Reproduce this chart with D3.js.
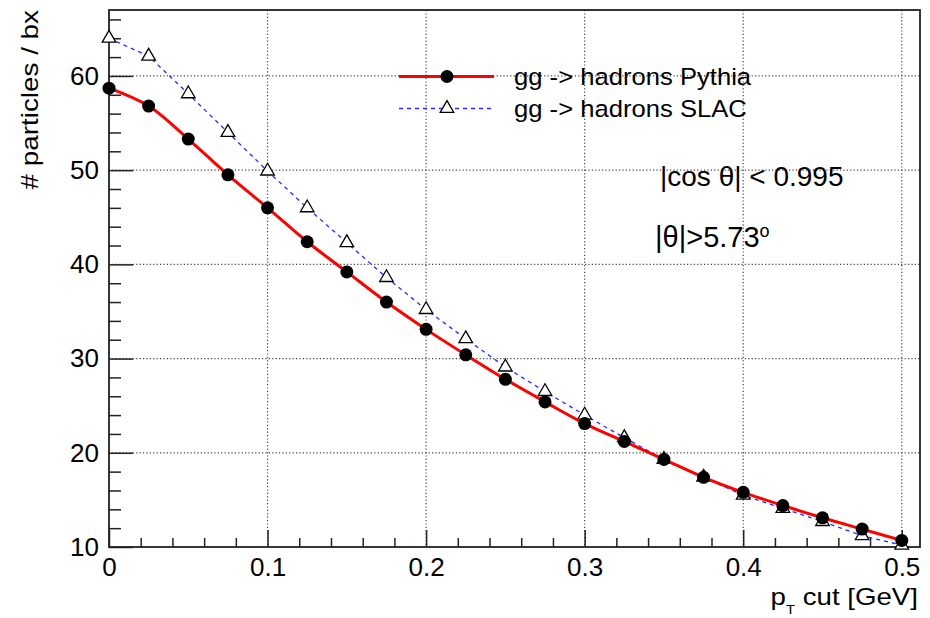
<!DOCTYPE html>
<html>
<head>
<meta charset="utf-8">
<script src="https://cdn.jsdelivr.net/npm/d3@7"></script>
<style>
	body { margin: 0; background: #fff; }
	svg { display: block; font-family: "Liberation Sans", Arial, sans-serif; }
</style>
</head>
<body>
<div id="chart"></div>
<script>
// --- DATA --- \\
var ptCut = [0, 0.025, 0.05, 0.075, 0.1, 0.125, 0.15, 0.175, 0.2, 0.225, 0.25,
	0.275, 0.3, 0.325, 0.35, 0.375, 0.4, 0.425, 0.45, 0.475, 0.5];
var pythia = [58.7, 56.8, 53.3, 49.5, 46.0, 42.4, 39.2, 36.0, 33.1, 30.4, 27.8,
	25.4, 23.1, 21.2, 19.3, 17.4, 15.8, 14.4, 13.1, 11.9, 10.7];
var slac = [64.0, 62.1, 58.1, 54.0, 49.9, 46.0, 42.3, 38.6, 35.2, 32.1, 29.1,
	26.5, 24.0, 21.6, 19.3, 17.4, 15.5, 14.1, 12.7, 11.2, 10.2];
var xMajor = [0, 0.1, 0.2, 0.3, 0.4, 0.5];
var yMajor = [10, 20, 30, 40, 50, 60];
var legendNames = ["gg -> hadrons Pythia", "gg -> hadrons SLAC"];

var width = 930, height = 618
	, frame = {left: 109, right: 920, top: 10, bottom: 547}
	, font = '"Liberation Sans", Arial, sans-serif';

var svg = d3.select("#chart").append("svg")
	.attr("width", width)
	.attr("height", height);

svg.append("rect").attr("width", width).attr("height", height).attr("fill", "#fff");

var x = d3.scaleLinear().domain([0, 0.5115]).range([frame.left, frame.right]);
var y = d3.scaleLinear().domain([10, 67]).range([frame.bottom, frame.top]);

// minor ticks: 5 subdivisions per major
var xMinor = d3.range(0, 0.5115, 0.02).filter(function (d) {
	return Math.abs(d * 10 - Math.round(d * 10)) > 1e-6;
});
var yMinor = d3.range(10, 67, 2).filter(function (d) { return d % 10 !== 0; });

// --- GRID --- \\
svg.append("g").selectAll("line").data(xMajor.slice(1)).enter().append("line")
	.attr("x1", function (d) { return x(d); })
	.attr("x2", function (d) { return x(d); })
	.attr("y1", frame.top).attr("y2", frame.bottom)
	.attr("stroke", "#444").attr("stroke-width", 1.2)
	.attr("stroke-dasharray", "1.2,2.2");

svg.append("g").selectAll("line").data(yMajor.slice(1)).enter().append("line")
	.attr("x1", frame.left).attr("x2", frame.right)
	.attr("y1", function (d) { return y(d); })
	.attr("y2", function (d) { return y(d); })
	.attr("stroke", "#444").attr("stroke-width", 1.2)
	.attr("stroke-dasharray", "1.2,2.2");

// --- AXES --- \\ ticks point inward like ROOT
function styleAxis(g, fs) {
	g.select(".domain").remove();
	g.selectAll("line").attr("stroke", "#222").attr("stroke-width", 1.5);
	g.selectAll("text").attr("fill", "#000").style("font-size", fs + "px").style("font-family", font);
}

svg.append("g").attr("transform", "translate(0," + frame.bottom + ")")
	.call(d3.axisBottom(x).tickValues(xMinor).tickSize(-9).tickFormat(""))
	.call(styleAxis, 26);
svg.append("g").attr("transform", "translate(0," + frame.bottom + ")")
	.call(d3.axisBottom(x).tickValues(xMajor).tickSize(-17).tickPadding(11)
		.tickFormat(function (d) { return d === 0 ? "0" : d3.format(".1f")(d); }))
	.call(styleAxis, 26);

svg.append("g").attr("transform", "translate(" + frame.left + ",0)")
	.call(d3.axisLeft(y).tickValues(yMinor).tickSize(-12).tickFormat(""))
	.call(styleAxis, 26);
svg.append("g").attr("transform", "translate(" + frame.left + ",0)")
	.call(d3.axisLeft(y).tickValues(yMajor).tickSize(-24).tickPadding(10))
	.call(styleAxis, 26);

// frame
svg.append("rect")
	.attr("x", frame.left).attr("y", frame.top)
	.attr("width", frame.right - frame.left)
	.attr("height", frame.bottom - frame.top)
	.attr("fill", "none").attr("stroke", "#222").attr("stroke-width", 1.8);

// --- SERIES --- \\
var slacPts = ptCut.map(function (d, i) { return [d, slac[i]]; });
var pythiaPts = ptCut.map(function (d, i) { return [d, pythia[i]]; });

var lineLin = d3.line()
	.x(function (d) { return x(d[0]); })
	.y(function (d) { return y(d[1]); });
var lineSmooth = d3.line()
	.x(function (d) { return x(d[0]); })
	.y(function (d) { return y(d[1]); })
	.curve(d3.curveCatmullRom.alpha(0.5));

var triangle = d3.symbol().type(d3.symbolTriangle).size(80);

svg.append("path").datum(slacPts)
	.attr("d", lineLin)
	.attr("fill", "none").attr("stroke", "#2a2aff").attr("stroke-width", 1.3)
	.attr("stroke-dasharray", "4,4");

svg.append("g").selectAll("path").data(slacPts).enter().append("path")
	.attr("d", triangle)
	.attr("transform", function (d) { return "translate(" + x(d[0]) + "," + y(d[1]) + ")"; })
	.attr("fill", "#fff").attr("stroke", "#000").attr("stroke-width", 1.3);

svg.append("path").datum(pythiaPts)
	.attr("d", lineSmooth)
	.attr("fill", "none").attr("stroke", "#f00").attr("stroke-width", 3);

svg.append("g").selectAll("circle").data(pythiaPts).enter().append("circle")
	.attr("cx", function (d) { return x(d[0]); })
	.attr("cy", function (d) { return y(d[1]); })
	.attr("r", 6.5)
	.attr("fill", "#000");

// --- LEGEND --- \\
var leg = svg.append("g");
leg.append("line").attr("x1", 399).attr("x2", 494).attr("y1", 76.5).attr("y2", 76.5)
	.attr("stroke", "#f00").attr("stroke-width", 3);
leg.append("circle").attr("cx", 447).attr("cy", 76.5).attr("r", 6.5).attr("fill", "#000");
leg.append("line").attr("x1", 399).attr("x2", 494).attr("y1", 108.5).attr("y2", 108.5)
	.attr("stroke", "#2a2aff").attr("stroke-width", 1.3).attr("stroke-dasharray", "4,4");
leg.append("path").attr("d", triangle)
	.attr("transform", "translate(447,108.5)")
	.attr("fill", "#fff").attr("stroke", "#000").attr("stroke-width", 1.3);
// the original font is a bit wider than Arial, so stretch it slightly
leg.selectAll("text").data(legendNames).enter().append("text")
	.attr("transform", function (d, i) { return "translate(514," + (85 + i * 32) + ") scale(1.09,1)"; })
	.style("font-size", "23.5px")
	.attr("fill", "#000")
	.text(function (d) { return d; });

// --- LABELS --- \\
svg.append("text")
	.attr("x", 660).attr("y", 186)
	.style("font-size", "28px")
	.text("|cos \u03b8| < 0.995");

var thetaText = svg.append("text")
	.attr("x", 655).attr("y", 247)
	.style("font-size", "29px");
thetaText.append("tspan").text("|\u03b8|>5.73");
thetaText.append("tspan").attr("dy", -10).style("font-size", "18px").text("o");

// axis titles
svg.append("text")
	.attr("transform", "translate(38,10) rotate(-90) scale(1.16,1)")
	.attr("text-anchor", "end")
	.style("font-size", "24px")
	.text("# particles / bx");

var xTitle = svg.append("text")
	.attr("transform", "translate(918,605) scale(1.13,1)")
	.attr("text-anchor", "end")
	.style("font-size", "24.5px");
xTitle.append("tspan").text("p");
xTitle.append("tspan").attr("dy", 9).style("font-size", "13px").text("T");
xTitle.append("tspan").attr("dy", -9).text(" cut [GeV]");
</script>
</body>
</html>
